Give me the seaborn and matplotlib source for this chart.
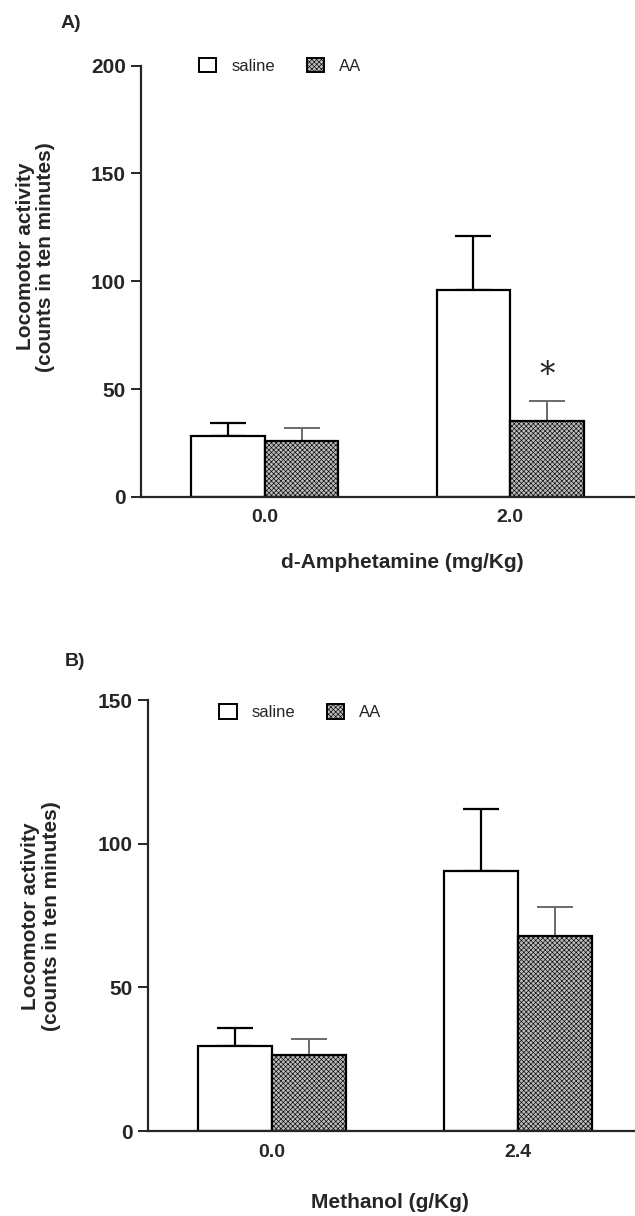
import seaborn as sns
import matplotlib.pyplot as plt
import pandas as pd
from matplotlib.patches import Patch

# values (means and upper SEM)
groups = ["saline", "AA"]
a_doses = ["0.0", "2.0"]
a_saline = [28.2, 96]
a_saline_err = [6, 25]
a_aa = [26, 35.3]
a_aa_err = [6, 9.2]
a_star_y = 56.5

b_doses = ["0.0", "2.4"]
b_saline = [29.6, 90.5]
b_saline_err = [6.2, 21.5]
b_aa = [26.4, 68]
b_aa_err = [5.6, 10]

sns.set_style("ticks")
plt.rcParams['font.family'] = ['Liberation Sans', 'DejaVu Sans']
plt.rcParams['hatch.linewidth'] = 0.45

AA_FACE = "#bcbcbc"

fig = plt.figure(figsize=(6.35, 12.16), dpi=100)
axA = fig.add_axes([0.222, 0.5913, 0.778, 0.3547])
axB = fig.add_axes([0.233, 0.0699, 0.767, 0.3544])


def panel(ax, doses, sal, sal_err, aa, aa_err, ymax, yticks, xlim, xlabel,
          xlab_pos, ylab_pos, leg_pos):
    df = pd.DataFrame({
        "dose": doses + doses,
        "group": [groups[0]] * len(doses) + [groups[1]] * len(doses),
        "value": sal + aa,
    })
    sns.barplot(data=df, x="dose", y="value", hue="group", order=doses, hue_order=groups,
                errorbar=None, width=0.6, legend=False, ax=ax,
                palette={"saline": "white", "AA": AA_FACE}, edgecolor="black", linewidth=1.6)
    bars = ax.patches
    n = len(doses)
    for i, p in enumerate(bars):
        if i >= n:
            p.set_hatch("xxxxxxx")
    xs_s = [bars[i].get_x() + bars[i].get_width() / 2 for i in range(n)]
    xs_a = [bars[n + i].get_x() + bars[n + i].get_width() / 2 for i in range(n)]
    # only the upper half of the error bar is drawn
    ax.errorbar(xs_s, sal, yerr=[[0] * n, sal_err], fmt="none", ecolor="black",
                elinewidth=1.6, capsize=13, capthick=1.6, zorder=0)
    ax.errorbar(xs_a, aa, yerr=[[0] * n, aa_err], fmt="none", ecolor="#6a6a6a",
                elinewidth=1.4, capsize=13, capthick=1.4, zorder=0)

    ax.set_ylim(0, ymax)
    ax.set_yticks(yticks)
    ax.set_xlim(*xlim)
    sns.despine(ax=ax)
    ax.spines["left"].set_linewidth(1.6)
    ax.spines["bottom"].set_linewidth(1.6)
    ax.tick_params(axis="y", length=7, width=1.4, pad=4, labelsize=15)
    ax.tick_params(axis="x", length=0, pad=9, labelsize=14)
    for t in ax.get_xticklabels() + ax.get_yticklabels():
        t.set_fontweight("bold")
    ax.set_xlabel(xlabel, fontsize=15, fontweight="bold")
    ax.xaxis.set_label_coords(*xlab_pos)
    ax.set_ylabel("Locomotor activity\n(counts in ten minutes)", fontsize=15,
                  fontweight="bold", linespacing=1.1)
    ax.yaxis.set_label_coords(*ylab_pos)

    handles = [Patch(facecolor="white", edgecolor="black", linewidth=1.4, label="saline"),
               Patch(facecolor=AA_FACE, edgecolor="black", linewidth=1.4, hatch="xxxxxxx", label="AA")]
    ax.legend(handles=handles, ncol=2, frameon=False, loc="center left",
              bbox_to_anchor=leg_pos, handlelength=1.05, handleheight=0.95,
              handletextpad=0.9, columnspacing=1.9, borderpad=0, borderaxespad=0,
              fontsize=12)
    return xs_a


xs_a = panel(axA, a_doses, a_saline, a_saline_err, a_aa, a_aa_err, 200, [0, 50, 100, 150, 200],
             (-0.506, 1.51), "d-Amphetamine (mg/Kg)", (0.530, -0.130), (-0.174, 0.557),
             (0.117, 1.0))
axA.text(xs_a[1], a_star_y, "*", ha="center", va="center", fontsize=22,
         family="DejaVu Serif")

panel(axB, b_doses, b_saline, b_saline_err, b_aa, b_aa_err, 150, [0, 50, 100, 150],
      (-0.504, 1.476), "Methanol (g/Kg)", (0.497, -0.144), (-0.179, 0.499),
      (0.146, 0.972))

fig.text(61 / 635, 1 - 23 / 1216, "A)", fontsize=14, fontweight="bold", va="center")
fig.text(65 / 635, 1 - 661 / 1216, "B)", fontsize=14, fontweight="bold", va="center")

fig.savefig("out.png", dpi=100)
